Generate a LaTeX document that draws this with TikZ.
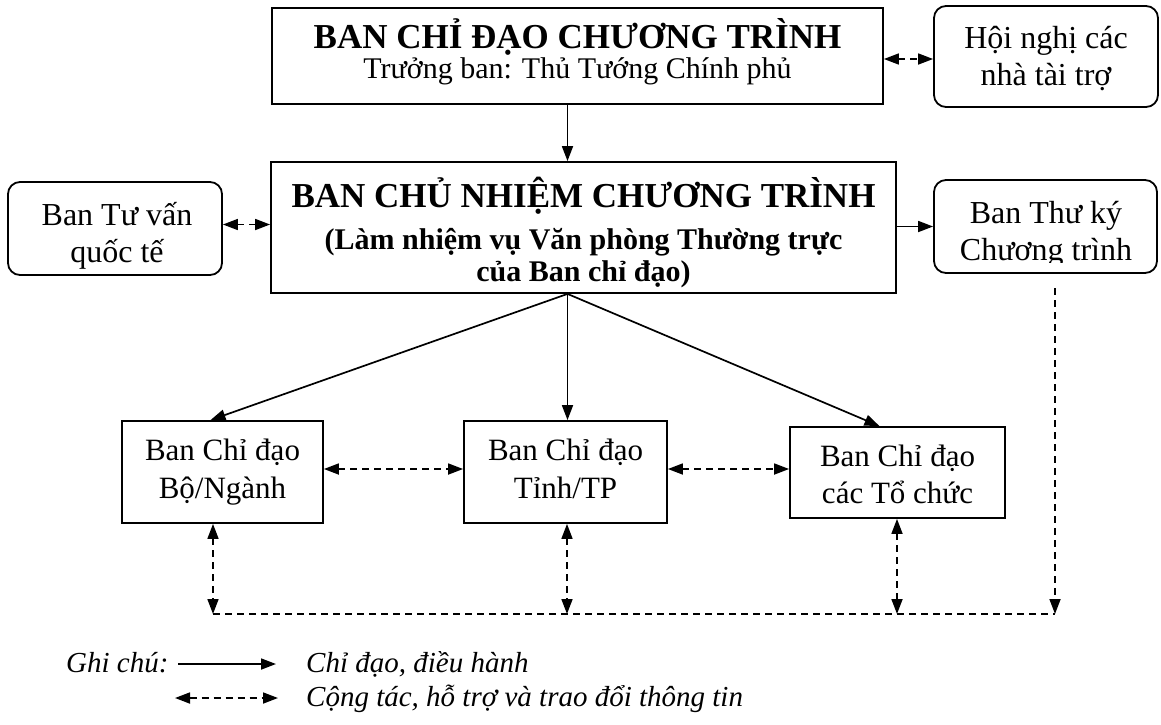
\documentclass[tikz,border=0pt]{standalone}
\usepackage{fontspec}
\setmainfont{Liberation Serif}
\usetikzlibrary{arrows.meta,calc}
\begin{document}
\begin{tikzpicture}[x=1pt,y=-1pt,
  box/.style={draw,line width=1.8pt,rectangle,inner sep=0,minimum width=#1},
  rbox/.style={draw,line width=1.8pt,rectangle,rounded corners=12pt,inner sep=0},
  lbl/.style={anchor=base,inner sep=0},
  sol/.style={line width=1.7pt,-{Triangle[length=15pt,width=11pt]}},
  dsh/.style={line width=1.7pt,dash pattern=on 7pt off 5pt},
  dbl/.style={dsh,{Triangle[length=15pt,width=11pt]}-{Triangle[length=15pt,width=11pt]}},
  dar/.style={dsh,-{Triangle[length=15pt,width=11pt]}}]
\useasboundingbox (0,0) rectangle (1161,724);
% boxes
\node[box=611pt,minimum height=96pt] (top) at (577.5,56) {};
\node[rbox,minimum width=224pt,minimum height=101pt] (hn) at (1046,56.5) {};
\node[box=625pt,minimum height=131pt] (bcn) at (583.5,227.5) {};
\node[rbox,minimum width=214pt,minimum height=93pt] (tv) at (115,228.5) {};
\node[rbox,minimum width=223pt,minimum height=93pt] (tk) at (1045.5,226.5) {};
\node[box=201pt,minimum height=102pt] (bo) at (222.5,472) {};
\node[box=203pt,minimum height=102pt] (ti) at (565.5,472) {};
\node[box=215pt,minimum height=91pt] (to) at (897.5,472.5) {};
% texts
\node[lbl,font=\fontsize{35pt}{40pt}\selectfont\bfseries] at (577.5,48) {BAN CHỈ ĐẠO CHƯƠNG TRÌNH};
\node[lbl,font=\fontsize{30pt}{36pt}\selectfont] at (577.5,78) {Trưởng ban: Thủ Tướng Chính phủ};
\node[lbl,font=\fontsize{32pt}{37pt}\selectfont] at (1046,48) {Hội nghị các};
\node[lbl,font=\fontsize{32pt}{37pt}\selectfont] at (1046,85) {nhà tài trợ};
\node[lbl,font=\fontsize{35pt}{40pt}\selectfont\bfseries] at (583.5,207) {BAN CHỦ NHIỆM CHƯƠNG TRÌNH};
\node[lbl,font=\fontsize{30pt}{36pt}\selectfont\bfseries] at (583.5,249) {(Làm nhiệm vụ Văn phòng Thường trực};
\node[lbl,font=\fontsize{30pt}{36pt}\selectfont\bfseries] at (583.5,281) {của Ban chỉ đạo)};
\node[lbl,font=\fontsize{32pt}{37pt}\selectfont] at (117,225) {Ban Tư vấn};
\begin{scope}
\clip (10,184) rectangle (220,269);
\node[lbl,font=\fontsize{32pt}{37pt}\selectfont] at (117,262) {quốc tế};
\end{scope}
\node[lbl,font=\fontsize{32pt}{37pt}\selectfont] at (1046,223) {Ban Thư ký};
\begin{scope}
\clip (936,182) rectangle (1156,262);
\node[lbl,font=\fontsize{32pt}{37pt}\selectfont] at (1046,260) {Chương trình};
\end{scope}
\node[lbl,font=\fontsize{31pt}{37pt}\selectfont] at (222.5,460) {Ban Chỉ đạo};
\node[lbl,font=\fontsize{31pt}{37pt}\selectfont] at (222.5,498) {Bộ/Ngành};
\node[lbl,font=\fontsize{31pt}{37pt}\selectfont] at (565.5,460) {Ban Chỉ đạo};
\node[lbl,font=\fontsize{31pt}{37pt}\selectfont] at (565.5,498) {Tỉnh/TP};
\node[lbl,font=\fontsize{31pt}{37pt}\selectfont] at (897.5,466) {Ban Chỉ đạo};
\node[lbl,font=\fontsize{31pt}{37pt}\selectfont] at (897.5,503) {các Tổ chức};
% legend
\node[lbl,anchor=base west,font=\fontsize{29pt}{34pt}\selectfont\itshape] (gc) at (66,672) {Ghi chú:};
\node[lbl,anchor=base west,font=\fontsize{29pt}{34pt}\selectfont\itshape] (l1) at (306,672) {Chỉ đạo, điều hành};
\node[lbl,anchor=base west,font=\fontsize{29pt}{34pt}\selectfont\itshape] (l2) at (306,706) {Cộng tác, hỗ trợ và trao đổi thông tin};
\coordinate (s1) at (178,664); \coordinate (e1) at (276,664);
\coordinate (s2) at (175,698); \coordinate (e2) at (278,698);
\draw[sol] (s1) -- (e1);
\draw[dbl] (s2) -- (e2);
% connectors
\draw[sol] ([xshift=-10pt]top.south) -- ([xshift=-16pt]bcn.north);
\draw[dbl] ([yshift=-3pt]top.east) -- ([yshift=-3pt]top.east -| hn.west);
\draw[dbl] ([yshift=4pt]tv.east) -- ([yshift=4pt]tv.east -| bcn.west);
\draw[sol] (tk.west -| bcn.east) -- (tk.west);
\coordinate (fan) at ([xshift=-16pt]bcn.south);
\draw[sol] (fan) -- ([xshift=-12pt]bo.north);
\draw[sol] (fan) -- (fan |- ti.north);
\draw[sol] (fan) -- ([xshift=-18pt]to.north);
\draw[dbl] ([yshift=3pt]bo.east) -- ([yshift=3pt]bo.east -| ti.west);
\draw[dbl] ([yshift=3pt]ti.east) -- ([yshift=3pt]ti.east -| to.west);
\coordinate (b1) at (213,614); \coordinate (b2) at (567,614);
\coordinate (b3) at (897,614); \coordinate (br) at (1055,614);
\coordinate (tk0) at (1055,288);
\draw[dbl] (bo.south -| b1) -- (b1);
\draw[dbl] (ti.south -| b2) -- (b2);
\draw[dbl] (to.south -| b3) -- (b3);
\draw[dar] (tk0) -- (br);
\draw[dsh] (b1) -- (br);
\end{tikzpicture}
\end{document}
